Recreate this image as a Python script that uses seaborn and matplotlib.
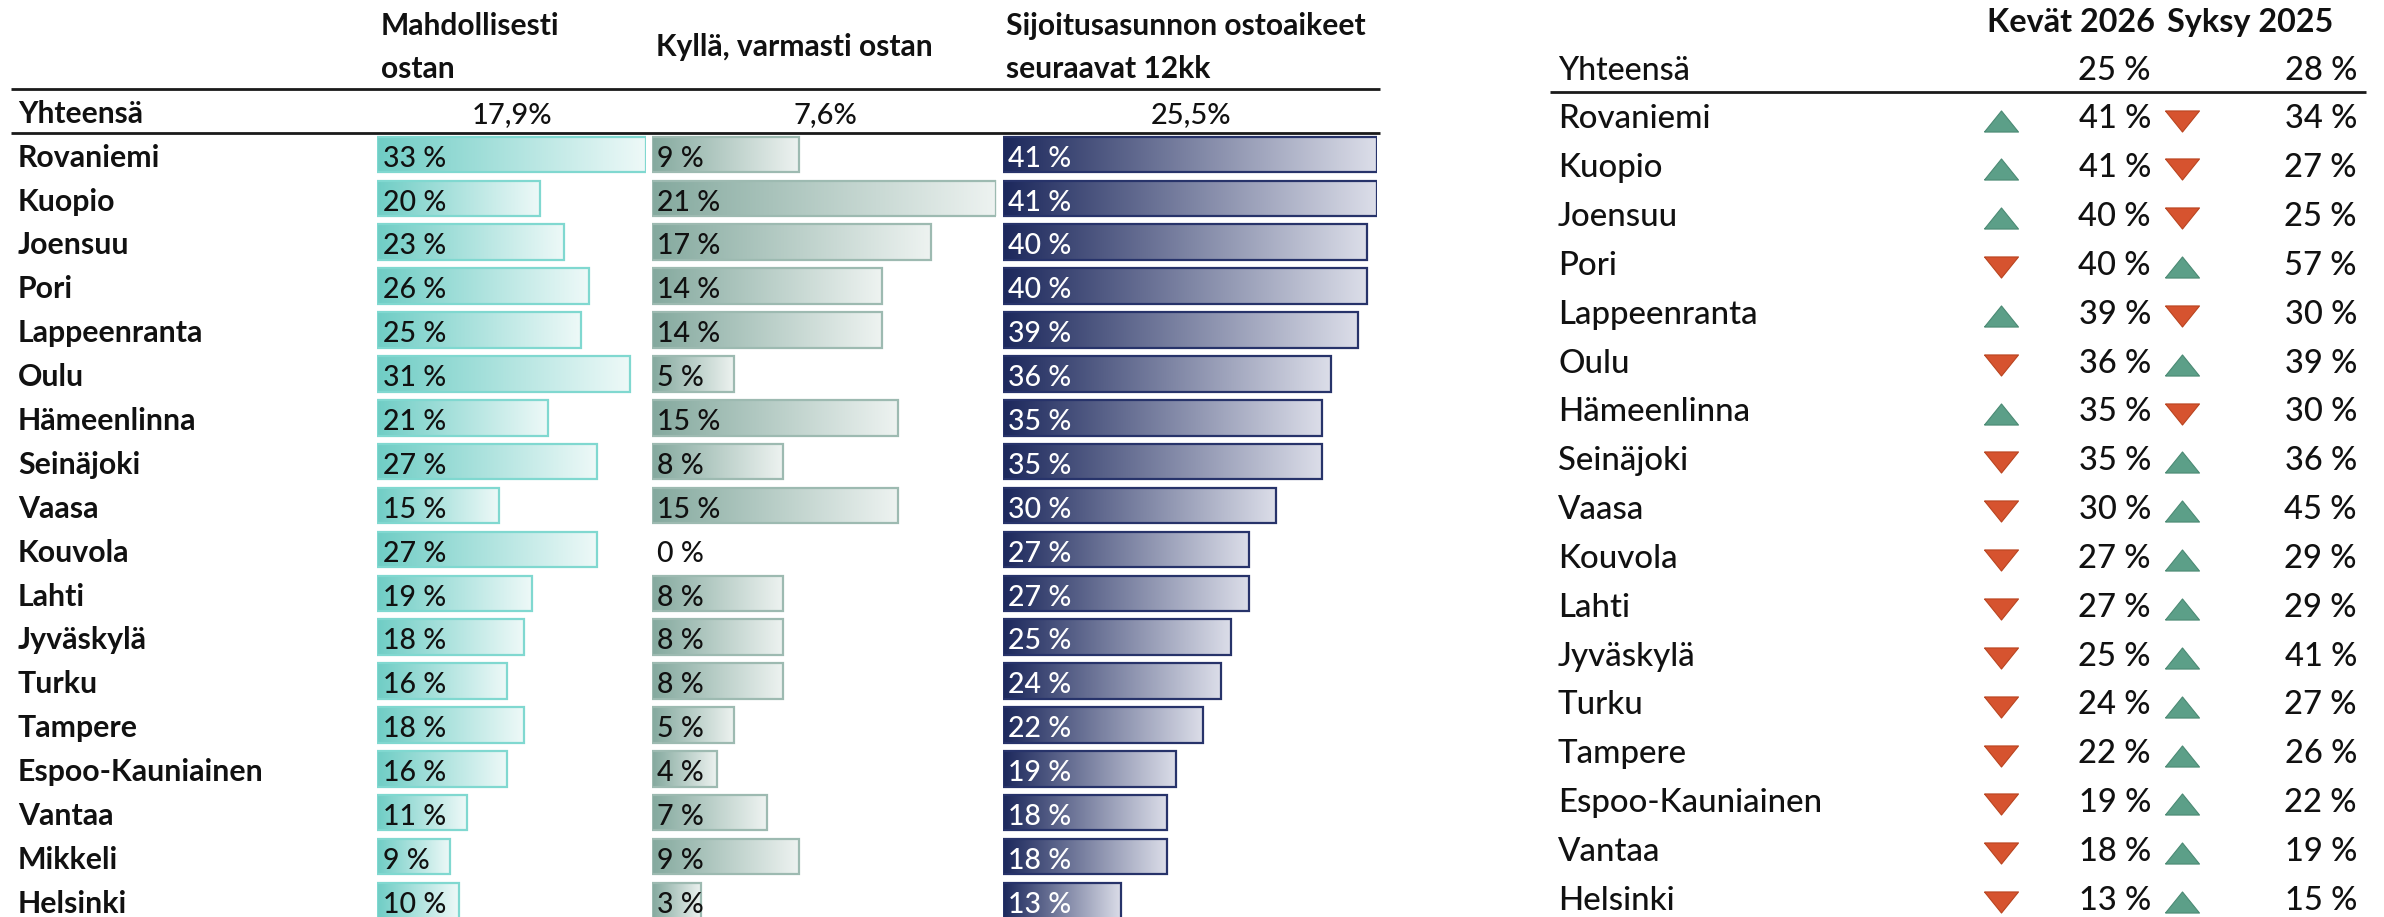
import numpy as np
import pandas as pd
import matplotlib
matplotlib.use("Agg")
import matplotlib.pyplot as plt
import seaborn as sns
from matplotlib.colors import LinearSegmentedColormap
from matplotlib.path import Path

# ---------------- data ----------------
cities_left = ["Rovaniemi", "Kuopio", "Joensuu", "Pori", "Lappeenranta", "Oulu",
               "Hämeenlinna", "Seinäjoki", "Vaasa", "Kouvola", "Lahti", "Jyväskylä",
               "Turku", "Tampere", "Espoo-Kauniainen", "Vantaa", "Mikkeli", "Helsinki"]
mahdollisesti = [33, 20, 23, 26, 25, 31, 21, 27, 15, 27, 19, 18, 16, 18, 16, 11, 9, 10]
varmasti = [9, 21, 17, 14, 14, 5, 15, 8, 15, 0, 8, 8, 8, 5, 4, 7, 9, 3]
sijoitus = [41, 41, 40, 40, 39, 36, 35, 35, 30, 27, 27, 25, 24, 22, 19, 18, 18, 13]
left_headers = ["Mahdollisesti\nostan", "Kyllä, varmasti ostan",
                "Sijoitusasunnon ostoaikeet\nseuraavat 12kk"]
total_label = "Yhteensä"
left_totals = ["17,9%", "7,6%", "25,5%"]

cities_right = ["Rovaniemi", "Kuopio", "Joensuu", "Pori", "Lappeenranta", "Oulu",
                "Hämeenlinna", "Seinäjoki", "Vaasa", "Kouvola", "Lahti", "Jyväskylä",
                "Turku", "Tampere", "Espoo-Kauniainen", "Vantaa", "Helsinki"]
kevat_2026 = [41, 41, 40, 40, 39, 36, 35, 35, 30, 27, 27, 25, 24, 22, 19, 18, 13]
syksy_2025 = [34, 27, 25, 57, 30, 39, 30, 36, 45, 29, 29, 41, 27, 26, 22, 19, 15]
right_headers = ["Kevät 2026", "Syksy 2025"]
right_totals = [25, 28]

# ---------------- style ----------------
sns.set_theme(style="white")
plt.rcParams['font.family'] = ['Lato', 'DejaVu Sans']
TXT = "#111111"
REG = "medium"

W, H = 2384, 917
fig = plt.figure(figsize=(W / 100, H / 100), dpi=100)
fig.canvas.draw()
renderer = fig.canvas.get_renderer()


def fit_size(s, target_px, weight="normal"):
    t = fig.text(0, 0, s, fontsize=20, fontweight=weight)
    w = t.get_window_extent(renderer).width
    t.remove()
    return 20.0 * target_px / w


FS_NAME_L = fit_size("Rovaniemi", 142, "bold")
FS_TOT_LBL_L = fit_size("Yhteensä", 125, "bold")
FS_BAR = fit_size("33 %", 63, REG)
FS_HEAD_L = np.mean([fit_size("Mahdollisesti", 179, "bold"),
                     fit_size("Sijoitusasunnon ostoaikeet", 361, "bold"),
                     fit_size("Kyllä, varmasti ostan", 274, "bold")])
FS_TOT_L = fit_size("17,9%", 80, REG)
FS_NAME_R = np.mean([fit_size("Rovaniemi", 153, REG), fit_size("Espoo-Kauniainen", 262, REG)])
FS_VAL_R = fit_size("41 %", 72, REG)
FS_HEAD_R = fit_size("Kevät 2026", 168, "bold")
FS_TOT_LBL_R = fit_size("Yhteensä", 132, REG)


def px_axes(x0, y0, w, h):
    return fig.add_axes([x0 / W, 1 - (y0 + h) / H, w / W, h / H])


# left table layout
ROW0, PITCH = 154.5, 43.88
n_left = len(cities_left)
ax_top = ROW0 - PITCH / 2
ax_h = PITCH * n_left

bar_cols = [
    dict(x0=377, w=269, vals=mahdollisesti, c0="#6fcdc5", c1="#eef9f8", edge="#80d8d0", tc=TXT),
    dict(x0=651.5, w=345, vals=varmasti, c0="#84a99e", c1="#eef3f1", edge="#9dbab1", tc=TXT),
    dict(x0=1002.5, w=374, vals=sijoitus, c0="#1c285c", c1="#dcdee9", edge="#27336a", tc="white"),
]

grad = np.linspace(0, 1, 256).reshape(1, -1)
for col in bar_cols:
    ax = px_axes(col["x0"], ax_top, col["w"], ax_h)
    df = pd.DataFrame({"city": cities_left, "value": col["vals"]})
    sns.barplot(data=df, x="value", y="city", orient="h", ax=ax, color=col["c0"],
                width=0.81, linewidth=1.6, edgecolor=col["edge"], saturation=1)
    cmap = LinearSegmentedColormap.from_list("g", [col["c0"], col["c1"]])
    for p in list(ax.patches):
        x0, y0, w, h = p.get_x(), p.get_y(), p.get_width(), p.get_height()
        if w <= 0:
            p.set_visible(False)
            continue
        ax.imshow(grad, cmap=cmap, extent=(x0, x0 + w, y0 + h, y0), aspect="auto",
                  interpolation="bicubic", zorder=1)
        p.set_facecolor("none")
        p.set_zorder(2)
    for i, v in enumerate(col["vals"]):
        tc = col["tc"] if v > 0 else TXT
        ax.annotate(f"{v} %", xy=(0, i), xytext=(4.0, -8.8), textcoords="offset points",
                    ha="left", va="baseline", fontsize=FS_BAR, fontweight=REG,
                    color=tc, zorder=5)
    ax.set_xlim(0, max(col["vals"]))
    ax.set_ylim(n_left - 0.5, -0.5)
    ax.axis("off")

# overlay axes in pixel coordinates for table text, rules and markers
bg = fig.add_axes([0, 0, 1, 1])
bg.set_xlim(0, W)
bg.set_ylim(H, 0)
bg.axis("off")

# left header
h0 = left_headers[0].split("\n")
h2 = left_headers[2].split("\n")
hk = dict(fontsize=FS_HEAD_L, fontweight="bold", color=TXT, va="baseline")
bg.text(381, 35, h0[0], **hk)
bg.text(381, 78, h0[1], **hk)
bg.text(656, 56, left_headers[1], **hk)
bg.text(1006, 35, h2[0], **hk)
bg.text(1006, 78, h2[1], **hk)

bg.plot([11, 1380], [89.3, 89.3], color="#1a1a1a", lw=2.0, solid_capstyle="butt")
bg.plot([11, 1380], [133.3, 133.3], color="#1a1a1a", lw=2.0, solid_capstyle="butt")

bg.text(18, 122.7, total_label, fontsize=FS_TOT_LBL_L, fontweight="bold", color=TXT, va="baseline")
for xc, t in zip([512, 825, 1191], left_totals):
    bg.text(xc, 122.7, t, fontsize=FS_TOT_L, fontweight=REG, color=TXT, va="baseline", ha="center")

for i, c in enumerate(cities_left):
    bg.text(18, ROW0 + 12.2 + i * PITCH, c, fontsize=FS_NAME_L, fontweight="bold",
            color=TXT, va="baseline")

# right table
RB0, RP = 128.3, 48.85
bg.text(2155, 31.7, right_headers[0], fontsize=FS_HEAD_R, fontweight="bold", color=TXT,
        va="baseline", ha="right")
bg.text(2333, 31.7, right_headers[1], fontsize=FS_HEAD_R, fontweight="bold", color=TXT,
        va="baseline", ha="right")
bg.text(1558, 80, total_label, fontsize=FS_TOT_LBL_R, fontweight=REG, color=TXT, va="baseline")
bg.text(2151, 80, f"{right_totals[0]} %", fontsize=FS_VAL_R, fontweight=REG, color=TXT,
        va="baseline", ha="right")
bg.text(2357, 80, f"{right_totals[1]} %", fontsize=FS_VAL_R, fontweight=REG, color=TXT,
        va="baseline", ha="right")
bg.plot([1550, 2366], [91.7, 91.7], color="#1a1a1a", lw=2.0, solid_capstyle="butt")

for i, c in enumerate(cities_right):
    yb = RB0 + i * RP
    bg.text(1558, yb, c, fontsize=FS_NAME_R, fontweight=REG, color=TXT, va="baseline")
    bg.text(2151, yb, f"{kevat_2026[i]} %", fontsize=FS_VAL_R, fontweight=REG, color=TXT,
            va="baseline", ha="right")
    bg.text(2357, yb, f"{syksy_2025[i]} %", fontsize=FS_VAL_R, fontweight=REG, color=TXT,
            va="baseline", ha="right")

# y axis of the overlay is inverted, so the paths are written flipped
up = Path([(-1, 0.62), (1, 0.62), (0, -0.62), (-1, 0.62)])
down = Path([(-1, -0.62), (1, -0.62), (0, 0.62), (-1, -0.62)])
GREEN, RED = "#5c9f88", "#d6532f"
ys = [RB0 - 7.8 + i * RP for i in range(len(cities_right))]
rise = [k > s for k, s in zip(kevat_2026, syksy_2025)]
tri = pd.DataFrame({"y": ys, "rise": rise})
for xcol, flip in [(2001, False), (2181.5, True)]:
    is_up = tri["rise"] != flip
    sns.scatterplot(x=[xcol] * int(is_up.sum()), y=tri.loc[is_up, "y"], marker=down, s=600,
                    color=GREEN, edgecolor="#4b8a74", linewidth=0.8, ax=bg, zorder=4)
    sns.scatterplot(x=[xcol] * int((~is_up).sum()), y=tri.loc[~is_up, "y"], marker=up, s=600,
                    color=RED, edgecolor="#b9441f", linewidth=0.8, ax=bg, zorder=4)
bg.set_xlim(0, W)
bg.set_ylim(H, 0)
bg.axis("off")

fig.savefig("out.png", dpi=100)
